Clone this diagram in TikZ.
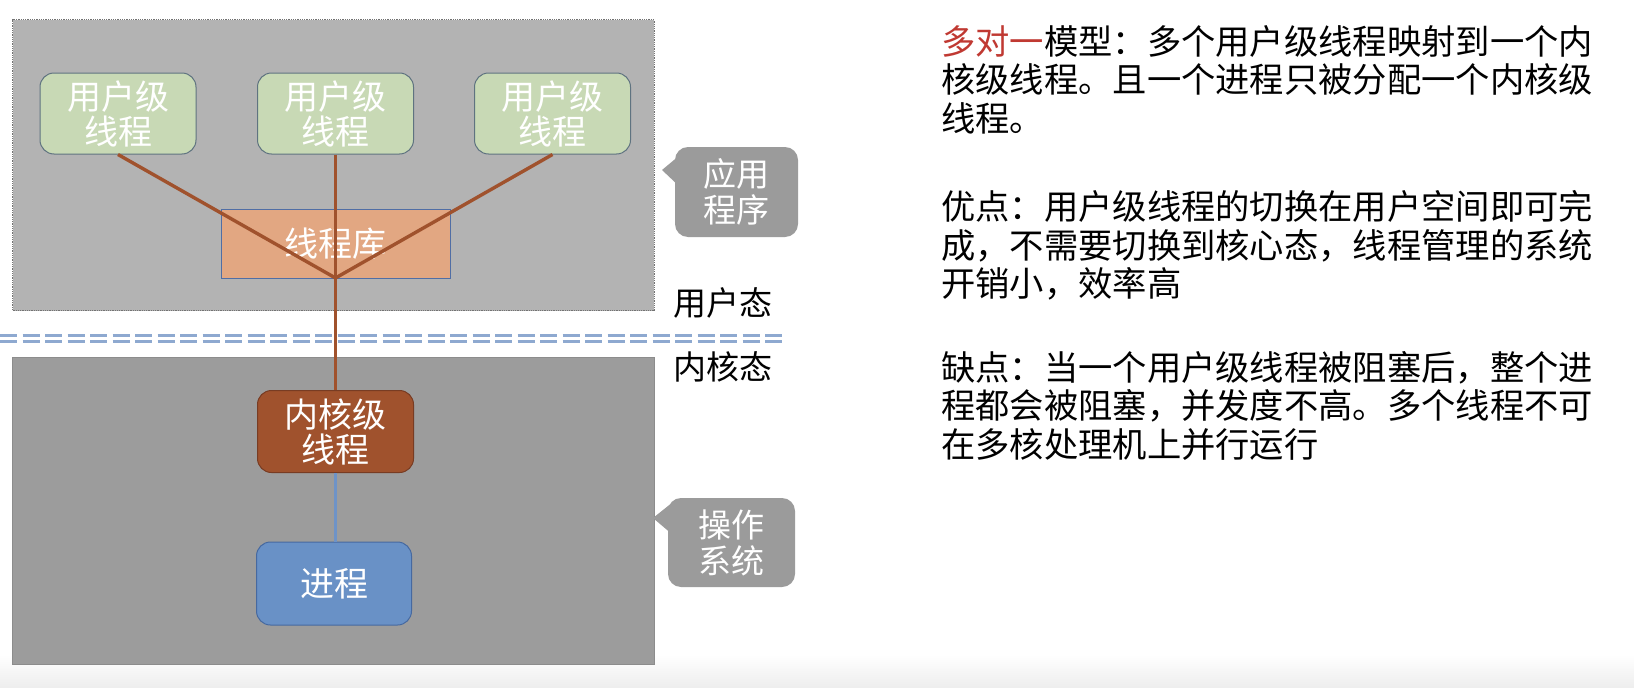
\documentclass[tikz,border=0pt]{standalone}
\usepackage{fontspec}
\setmainfont{Noto Sans CJK SC}
\usetikzlibrary{calc}
\definecolor{upgray}{RGB}{179,179,179}
\definecolor{lowgray}{RGB}{156,156,156}
\definecolor{greenfill}{RGB}{200,217,181}
\definecolor{greenline}{RGB}{95,115,128}
\definecolor{libfill}{RGB}{226,167,130}
\definecolor{libline}{RGB}{80,110,165}
\definecolor{brownc}{RGB}{160,82,45}
\definecolor{brownline}{RGB}{120,60,35}
\definecolor{bluefill}{RGB}{105,145,198}
\definecolor{blueline}{RGB}{70,105,160}
\definecolor{bluelink}{RGB}{110,147,199}
\definecolor{callgray}{RGB}{155,155,155}
\definecolor{dashblue}{RGB}{142,169,208}
\definecolor{redtext}{RGB}{192,57,50}
\begin{document}
\begin{tikzpicture}[x=1pt,y=-1pt,
  boxtext/.style={text=white,font=\fontsize{34}{35}\selectfont,align=center,inner sep=0pt},
  uthread/.style={boxtext,draw=greenline,line width=1pt,fill=greenfill,rounded corners=14pt,minimum width=156pt,minimum height=81pt},
  kthread/.style={boxtext,draw=brownline,line width=1pt,fill=brownc,rounded corners=14pt,minimum width=156pt,minimum height=82pt},
  proc/.style={boxtext,draw=blueline,line width=1pt,fill=bluefill,rounded corners=14pt,minimum width=155pt,minimum height=83pt},
  libbox/.style={boxtext,draw=libline,line width=0.8pt,fill=libfill,minimum width=228.5pt,minimum height=69pt},
  callbox/.style={boxtext,font=\fontsize{33}{36}\selectfont,fill=callgray,rounded corners=13pt},
  link/.style={brownc,line width=3.4pt},
  sidelabel/.style={font=\fontsize{33}{36}\selectfont,text=black,inner sep=0pt},
  para/.style={font=\fontsize{34.3}{38.5}\selectfont,text=black,align=left,inner sep=0pt,anchor=north west},
  dashrule/.style={dashblue,line width=2.5pt,dash pattern=on 17pt off 5.5pt}
]
\useasboundingbox (0,0) rectangle (1634,688);
\fill[white] (0,0) rectangle (1634,688);
\shade[top color=white,bottom color=black!7] (0,655) rectangle (1634,688);

% containers
\node[draw=black!55,densely dotted,line width=0.8pt,fill=upgray,minimum width=641.5pt,minimum height=290.7pt,inner sep=0pt] (userbox) at (333.25,165.15) {};
\node[draw=black!45,line width=1pt,fill=lowgray,minimum width=641.5pt,minimum height=307.4pt,inner sep=0pt] (kernbox) at (333.25,511.1) {};

% nodes
\node[libbox] (lib) at (335.75,243.5) {线程库};
\node[uthread] (u1) at (118,113.5) {用户级\\线程};
\node[uthread] (u2) at (335.5,113.5) {用户级\\线程};
\node[uthread] (u3) at (552.5,113.5) {用户级\\线程};
\coordinate (j) at (335.5,278);
\node[kthread] (k) at (335.5,431.5) {内核级\\线程};
\node[proc] (p) at (334,583.5) {进程};

% links
\draw[link] (u1.south) -- (j);
\draw[link] (u3.south) -- (j);
\draw[link] (u2.south) -- (k.north);
\draw[bluelink,line width=2.4pt] (k.south) -- (k.south |- p.north);

% dashed boundary
\coordinate (dl) at (0,335.5);
\coordinate (dr) at (787,335.5);
\draw[dashrule] (dl) -- (dr);
\draw[dashrule] ($(dl)+(0,6)$) -- ($(dr)+(0,6)$);

% side labels
\node[sidelabel,anchor=west] (ust) at (673,303) {用户态};
\node[sidelabel,anchor=west] (kst) at (673,367) {内核态};

% callouts
\node[callbox,minimum width=123pt,minimum height=90pt] (app) at (736.5,192) {应用\\程序};
\fill[callgray] (680,155) -- (662,170) -- (680,187) -- cycle;
\node[callbox,minimum width=127pt,minimum height=89pt] (os) at (731.5,542.5) {操作\\系统};
\fill[callgray] (673,502) -- (653,518) -- (673,535) -- cycle;

% right text
\node[para] (t1) at (941,25.2) {\textcolor{redtext}{多对一}模型：多个用户级线程映射到一个内\\核级线程。且一个进程只被分配一个内核级\\线程。};
\node[para] (t2) at (941,190.2) {优点：用户级线程的切换在用户空间即可完\\成，不需要切换到核心态，线程管理的系统\\开销小，效率高};
\node[para] (t3) at (941,351.2) {缺点：当一个用户级线程被阻塞后，整个进\\程都会被阻塞，并发度不高。多个线程不可\\在多核处理机上并行运行};
\end{tikzpicture}
\end{document}
